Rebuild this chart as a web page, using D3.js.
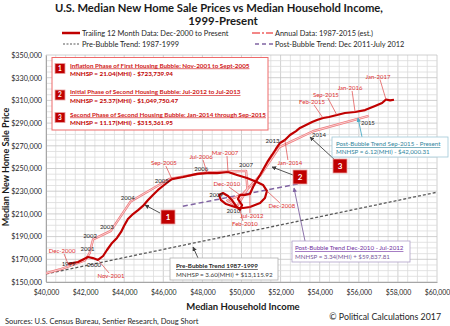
<!DOCTYPE html>
<html><head><meta charset="utf-8">
<script src="https://cdn.jsdelivr.net/npm/d3@7"></script>
<style>
body{margin:0;background:#fff}
svg{display:block;font-family:Lato,"Open Sans",sans-serif}
</style>
</head><body>
<svg id="c" width="450" height="326"></svg>
<script>
// ---------- DATA ----------
const xTicks = [40000,42000,44000,46000,48000,50000,52000,54000,56000,58000,60000];
const yTicks = [150000,170000,190000,210000,230000,250000,270000,290000,310000,330000,350000];

// Trailing 12 month data, Dec-2000 to present (median household income, median new home sale price)
const trailingMHI = [41130,41640,42150,42400,42660,42920,43120,43380,43630,43840,43990,44190,44450,44710,44960,45220,45470,45730,45980,46240,46440,47010,47720,48240,48750,49310,49770,50280,50790,51100,51300,51200,50950,50430,50080,49820,49510,49210,48950,48850,49050,49310,49510,49720,49920,50030,49820,49920,50180,50430,50590,50790,50950,51150,51350,51560,51760,51970,52220,52480,52790,52990,53300,53610,53860,54170,54470,54880,55290,55810,56320,56830,57190,57390,57600,57800];
const trailingPrice = [165900,167600,172000,171100,169400,172900,178200,184400,188800,194100,199300,205500,209900,213400,217000,222200,226700,231100,234600,238100,240700,242500,245200,246000,246000,246900,244300,241600,238100,235500,230200,224000,219600,216100,215200,215200,217000,218700,222200,226700,228400,225800,222200,217000,213400,217800,223100,226700,226700,227500,233700,239900,244300,250400,256600,261900,267200,272500,275100,279500,283000,285700,288300,291000,292700,294500,295400,297100,298900,299800,301500,305100,307700,310800,310000,310600];
const trailingDateLabels = ["Dec-2000","Nov-2001","Sep-2005","Jul-2006","Mar-2007","Dec-2008","Feb-2010","Dec-2010","Jul-2012","Jan-2014","Feb-2015","Sep-2015","Jan-2016","Jan-2017"];
const trailingDateIndex = [0,4,20,23,25,30,44,47,49,58,65,67,69,73];

// Annual data
const annualYears = [1998,1999,2000,2001,2002,2003,2004,2005,2006,2007,2008,2009,2010,2011,2012,2013,2014,2015];
const annualMHI   = [38885,40696,41990,42228,42409,43318,44334,46326,48201,50233,50303,49777,49276,50054,51017,51939,53657,56516];
const annualPrice = [152500,161000,169000,175200,187600,195000,221000,240900,246500,247900,232100,216700,221800,227200,245200,268900,282800,296400];
const annualLabelYears = [1999,2000,2001,2002,2003,2004,2005,2006,2007,2009,2010,2013,2014,2015];

// Trend lines (end points)
const preBubbleMHI = [40000,60000];
const preBubblePrice = [157116,229116];
const postBubbleMHI = [47000,53350];
const postBubblePrice = [216800,238000];

// ---------- LAYOUT ----------
const W=450,H=326;
const L=46,R=437,T=55,B=282;
const svg=d3.select("#c");
const x=d3.scaleLinear().domain([40000,60000]).range([L,R]);
const y=d3.scaleLinear().domain([150000,350000]).range([B,T]);
const fmt=d3.format("$,");

const defs=svg.append("defs");
defs.append("clipPath").attr("id","clip").append("rect").attr("x",L).attr("y",T).attr("width",R-L).attr("height",B-T);
function marker(id,color){
  defs.append("marker").attr("id",id).attr("viewBox","0 0 10 10").attr("refX",9).attr("refY",5)
    .attr("markerWidth",5).attr("markerHeight",5).attr("orient","auto-start-reverse")
    .append("path").attr("d","M0,0L10,5L0,10z").attr("fill",color);
}
marker("arDark","#404040");marker("arPurple","#8064a2");marker("arTeal","#4bacc6");

// grid
const g=svg.append("g");
const minorX=d3.range(40000,60001,500), minorY=d3.range(150000,350001,5000);
g.selectAll(".gx").data(minorX).join("line").attr("x1",d=>x(d)).attr("x2",d=>x(d)).attr("y1",T).attr("y2",B)
  .attr("stroke",d=>d%2000===0?"#c4c4c4":"#dcdcdc").attr("stroke-width",0.8);
g.selectAll(".gy").data(minorY).join("line").attr("y1",d=>y(d)).attr("y2",d=>y(d)).attr("x1",L).attr("x2",R)
  .attr("stroke",d=>d%20000===10000?"#c4c4c4":"#dcdcdc").attr("stroke-width",0.8);

// axes
const ax=svg.append("g").attr("transform",`translate(0,${B})`)
  .call(d3.axisBottom(x).tickValues(xTicks).tickFormat(fmt).tickSize(0).tickPadding(8));
const ay=svg.append("g").attr("transform",`translate(${L},0)`)
  .call(d3.axisLeft(y).tickValues(yTicks).tickFormat(fmt).tickSize(0).tickPadding(4));
[ax,ay].forEach(a=>{a.select(".domain").attr("stroke","#a6a6a6");
  a.selectAll("text").attr("font-family","Lato").attr("font-size",7.2).attr("fill","#262626");});
ax.selectAll("text").attr("font-size",6.9);

const plot=svg.append("g").attr("clip-path","url(#clip)");
const line=d3.line().x(d=>x(d[0])).y(d=>y(d[1]));

// pre-bubble trend
plot.append("path").attr("d",line(preBubbleMHI.map((m,i)=>[m,preBubblePrice[i]])))
  .attr("stroke","#595959").attr("stroke-width",1.3).attr("stroke-dasharray","3,2").attr("fill","none");
// post-bubble trend
plot.append("path").attr("d",line(postBubbleMHI.map((m,i)=>[m,postBubblePrice[i]])))
  .attr("stroke","#8064a2").attr("stroke-width",1.5).attr("stroke-dasharray","5,3").attr("fill","none");

// annual data (double line look)
const annualPts=annualMHI.map((m,i)=>[m,annualPrice[i]]);
plot.append("path").attr("d",line(annualPts)).attr("stroke","#ee7b7e").attr("stroke-width",2.4).attr("fill","none").attr("stroke-linejoin","round");
plot.append("path").attr("d",line(annualPts)).attr("stroke","#fbe3e3").attr("stroke-width",0.8).attr("fill","none").attr("stroke-linejoin","round");

// trailing
const trailPts=trailingMHI.map((m,i)=>[m,trailingPrice[i]]);
plot.append("path").attr("d",line(trailPts)).attr("stroke","#c00000").attr("stroke-width",2.2).attr("fill","none").attr("stroke-linejoin","round");

// year labels
const yearOffsets={1999:[9,-6],2000:[9,4],2001:[-2,-4],2002:[-3,-3],2003:[-4,-4],2004:[-3,-4],2005:[-8,2],2006:[-5,-4],2007:[0,-6],2009:[-21,-11],2010:[6,10],2013:[-7,-6],2014:[6,4],2015:[-1,7]};
annualLabelYears.forEach(yr=>{
  const i=annualYears.indexOf(yr),o=yearOffsets[yr];
  svg.append("text").attr("x",x(annualMHI[i])+o[0]).attr("y",y(annualPrice[i])+o[1]).attr("dy","0.35em")
    .attr("text-anchor","middle").attr("font-size",6).attr("fill","#262626").text(yr);
});

// date labels
const dateOffsets=[[-6,-13],[13,16],[-8,-16],[-6,-16],[-3,-19],[15,15],[5,14],[-13,-11],[2,22],[5,23],[-11,-16],[-11,-20],[-5,-24],[-8,-23]];
trailingDateLabels.forEach((lab,k)=>{
  const i=trailingDateIndex[k],o=dateOffsets[k];
  const px=x(trailingMHI[i]),py=y(trailingPrice[i]);
  const lx=px+o[0],ly=py+o[1];
  svg.append("line").attr("x1",lx+(o[0]<0?2:-2)).attr("y1",o[1]<0?ly+3:ly-3).attr("x2",px).attr("y2",py)
    .attr("stroke","#e04545").attr("stroke-width",0.7);
  svg.append("text").attr("x",lx).attr("y",ly).attr("dy","0.35em").attr("text-anchor","middle")
    .attr("font-size",6).attr("fill","#e03030").text(lab);
});

// ---------- TITLE & LEGEND ----------
svg.append("text").attr("x",219).attr("y",11.5).attr("text-anchor","middle").attr("font-weight","bold").attr("font-size",11.4).attr("fill","#1a1a1a")
  .attr("textLength",328).attr("lengthAdjust","spacingAndGlyphs")
  .text("U.S. Median New Home Sale Prices vs Median Household Income,");
svg.append("text").attr("x",223).attr("y",24.5).attr("text-anchor","middle").attr("font-weight","bold").attr("font-size",11.4).attr("fill","#1a1a1a")
  .text("1999-Present");
const leg=svg.append("g").attr("font-size",7.4).attr("fill","#262626");
leg.append("line").attr("x1",62).attr("x2",80).attr("y1",33).attr("y2",33).attr("stroke","#c00000").attr("stroke-width",2.5);
leg.append("text").attr("x",82).attr("y",35.5).text("Trailing 12 Month Data: Dec-2000 to Present");
leg.append("line").attr("x1",252).attr("x2",273).attr("y1",33).attr("y2",33).attr("stroke","#f06060").attr("stroke-width",1.5).attr("stroke-dasharray","8,2,2,2");
leg.append("text").attr("x",275).attr("y",35.5).text("Annual Data: 1987-2015 (est.)");
leg.append("line").attr("x1",63).attr("x2",80).attr("y1",44).attr("y2",44).attr("stroke","#595959").attr("stroke-width",1.2).attr("stroke-dasharray","2,1.5");
leg.append("text").attr("x",82).attr("y",46.5).text("Pre-Bubble Trend: 1987-1999");
leg.append("line").attr("x1",255).attr("x2",273).attr("y1",44).attr("y2",44).attr("stroke","#8064a2").attr("stroke-width",1.5).attr("stroke-dasharray","4,3");
leg.append("text").attr("x",275).attr("y",46.5).text("Post-Bubble Trend: Dec 2011-July 2012");

// axis titles
svg.append("text").attr("transform","translate(9,167) rotate(-90)").attr("text-anchor","middle").attr("font-weight","bold").attr("font-size",9).attr("fill","#1a1a1a").text("Median New Home Sale Price");
svg.append("text").attr("x",243).attr("y",310).attr("text-anchor","middle").attr("font-weight","bold").attr("font-size",9.5).attr("fill","#1a1a1a").text("Median Household Income");

// sources
svg.append("text").attr("x",5).attr("y",324).attr("font-size",7.5).attr("fill","#262626").text("Sources: U.S. Census Bureau, Sentier Research, Doug Short");
svg.append("text").attr("x",441).attr("y",320).attr("text-anchor","end").attr("font-size",8.8).attr("fill","#262626").text("\u00A9 Political Calculations 2017");

// ---------- ANNOTATIONS ----------
function numBox(cx,cy,s,n,fs){
  svg.append("rect").attr("x",cx-s/2).attr("y",cy-s/2).attr("width",s).attr("height",s).attr("fill","#c00000").attr("stroke","#e8a0a0").attr("stroke-width",0.8);
  svg.append("text").attr("x",cx).attr("y",cy).attr("dy","0.36em").attr("text-anchor","middle").attr("font-weight","bold").attr("font-size",fs).attr("fill","#fff").text(n);
}
// big box
svg.append("rect").attr("x",52).attr("y",57.5).attr("width",216).attr("height",72.5).attr("fill","#fff").attr("stroke","#ee6a6a").attr("stroke-width",1);
const phases=[
  ["1","Inflation Phase of First Housing Bubble: Nov-2001 to Sept-2005","MNHSP = 21.04(MHI) - $723,739.94",68.5],
  ["2","Initial Phase of Second Housing Bubble: Jul-2012 to Jul-2013","MNHSP = 25.37(MHI) - $1,049,750.47",95],
  ["3","Second Phase of Second Housing Bubble: Jan-2014 through Sep-2015","MNHSP = 11.17(MHI) - $315,361.95",117.5]];
phases.forEach(p=>{
  numBox(60,p[3],10,p[0],6.5);
  svg.append("text").attr("x",70).attr("y",p[3]-1).attr("font-size",6.3).attr("font-weight","bold").attr("fill","#d01818").style("text-decoration","underline").text(p[1]);
  svg.append("text").attr("x",70).attr("y",p[3]+7.5).attr("font-size",6.3).attr("font-weight","bold").attr("fill","#c00000").text(p[2]);
});
// markers on chart + arrows
function arrow(x1,y1,x2,y2,col,id){
  svg.append("line").attr("x1",x1).attr("y1",y1).attr("x2",x2).attr("y2",y2).attr("stroke",col).attr("stroke-width",0.9).attr("marker-end",`url(#${id})`);
}
arrow(160,213,145,205,"#404040","arDark");
numBox(168,217,14,"1",8);
arrow(293,175,272,167,"#404040","arDark");
numBox(300,177,14,"2",8);
arrow(335,160,310,137,"#404040","arDark");
numBox(340,166,14,"3",8);

// pre-bubble box
arrow(198,258,193,247,"#404040","arDark");
svg.append("rect").attr("x",170).attr("y",258).attr("width",108).attr("height",22).attr("fill","#fff").attr("stroke","#b0b0b0").attr("stroke-width",0.8);
svg.append("text").attr("x",176).attr("y",268).attr("font-size",6.3).attr("font-weight","bold").attr("fill","#262626").style("text-decoration","underline").text("Pre-Bubble Trend 1987-1999");
svg.append("text").attr("x",176).attr("y",277).attr("font-size",6.3).attr("fill","#404040").text("MNHSP = 3.60(MHI) + $13,115.92");

// post-bubble Dec-2010 box
arrow(305,241,294,188,"#8064a2","arPurple");
svg.append("rect").attr("x",292).attr("y",241).attr("width",118).attr("height",21).attr("fill","#fff").attr("stroke","#b0a0c8").attr("stroke-width",0.8);
svg.append("text").attr("x",295).attr("y",250).attr("font-size",6.2).attr("fill","#7030a0").style("text-decoration","underline").text("Post-Bubble Trend Dec-2010 - Jul-2012");
svg.append("text").attr("x",295).attr("y",258.5).attr("font-size",6.2).attr("fill","#7a5a9a").text("MNHSP = 3.34(MHI) + $59,837.81");

// post-bubble Sep-2015 box
arrow(362,137,358,118,"#4bacc6","arTeal");
svg.append("rect").attr("x",332).attr("y",137).attr("width",116).attr("height",20).attr("fill","#fff").attr("stroke","#a0c8d8").attr("stroke-width",0.8);
svg.append("text").attr("x",336).attr("y",146).attr("font-size",6.2).attr("fill","#31859c").style("text-decoration","underline").text("Post-Bubble Trend Sep-2015 - Present");
svg.append("text").attr("x",336).attr("y",154).attr("font-size",6.2).attr("fill","#31859c").text("MNHSP = 6.12(MHI) - $42,000.31");
</script>
</body></html>
